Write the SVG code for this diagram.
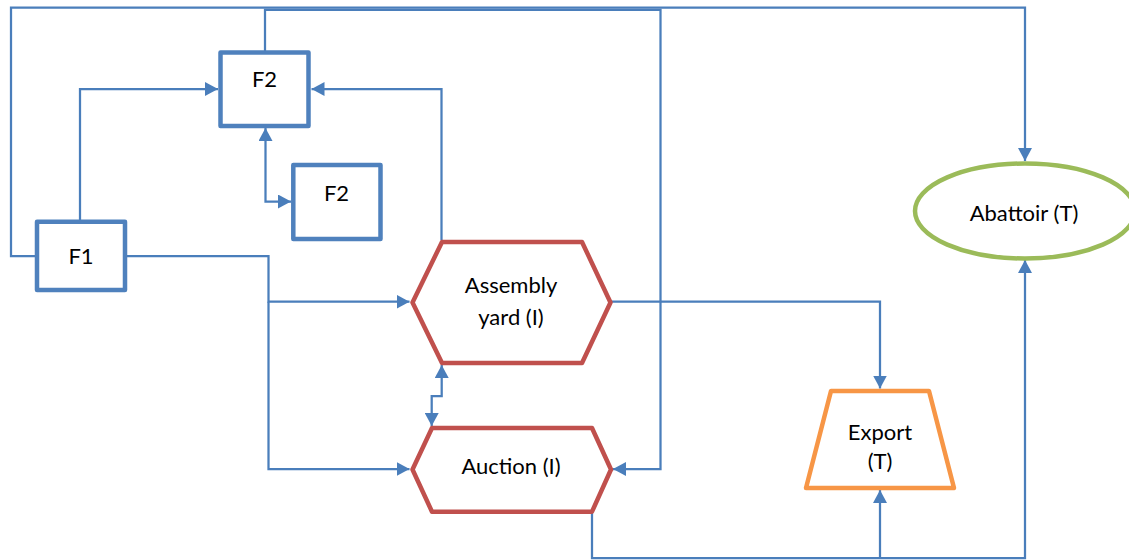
<svg xmlns="http://www.w3.org/2000/svg" width="1129" height="560" viewBox="0 0 1129 560">
  <style>
    .conn { fill: none; stroke: #4A7EBB; stroke-width: 2.25; stroke-linejoin: miter; }
    .box { fill: #FFFFFF; stroke: #4F81BD; stroke-width: 4.5; stroke-linejoin: round; }
    .hex { fill: #FFFFFF; stroke: #C0504D; stroke-width: 4.5; stroke-linejoin: round; }
    .trap { fill: #FFFFFF; stroke: #F79646; stroke-width: 4.5; stroke-linejoin: round; }
    .oval { fill: #FFFFFF; stroke: #9BBB59; stroke-width: 4.5; }
    .lbl { font-family: Lato, "Liberation Sans", sans-serif; font-size: 22px; fill: #000000; text-anchor: middle; }
  </style>
  <defs>
    <marker id="arrow" viewBox="0 0 13 14" refX="13" refY="7" markerWidth="13" markerHeight="14" markerUnits="userSpaceOnUse" orient="auto-start-reverse">
      <path d="M0,0 L13,7 L0,14 z" fill="#4A7EBB"/>
    </marker>
  </defs>
  <rect width="1129" height="560" fill="#FFFFFF"/>

  <!-- connectors -->
  <g id="connectors">
    <path id="c-f1-abattoir" class="conn" d="M37,256 H11 V7.5 H1025 V161" marker-end="url(#arrow)"/>
    <path id="c-f2-auction" class="conn" d="M265,51 V9.8 H660.5 V469 H613" marker-end="url(#arrow)"/>
    <path id="c-f1-f2" class="conn" d="M80,221 V89 H218" marker-end="url(#arrow)"/>
    <path id="c-assembly-f2" class="conn" d="M441.5,240 V89 H311.5" marker-end="url(#arrow)"/>
    <path id="c-f2-f2b" class="conn" d="M265.5,128 V201.5 H291" marker-start="url(#arrow)" marker-end="url(#arrow)"/>
    <path id="c-f1-assembly" class="conn" d="M125,256 H268.5 V301.7 H409.5" marker-end="url(#arrow)"/>
    <path id="c-f1-auction" class="conn" d="M268.5,301.7 V469 H409.5" marker-end="url(#arrow)"/>
    <path id="c-assembly-auction" class="conn" d="M441.7,365 V396 H431.7 V426" marker-start="url(#arrow)" marker-end="url(#arrow)"/>
    <path id="c-assembly-export" class="conn" d="M612,301.7 H880 V388.5" marker-end="url(#arrow)"/>
    <path id="c-auction-abattoir" class="conn" d="M592,512 V558 H1025 V260" marker-end="url(#arrow)"/>
    <path id="c-auction-export" class="conn" d="M880,558 V490" marker-end="url(#arrow)"/>
  </g>

  <!-- farms -->
  <g id="node-f2-top">
    <rect class="box" x="220.5" y="52.5" width="88" height="73.5"/>
    <text class="lbl" x="264.5" y="87">F2</text>
  </g>
  <g id="node-f2-small">
    <rect class="box" x="293.3" y="165" width="87.2" height="74"/>
    <text class="lbl" x="336.5" y="200.5">F2</text>
  </g>
  <g id="node-f1">
    <rect class="box" x="37" y="221.7" width="88" height="68.3"/>
    <text class="lbl" x="81" y="264">F1</text>
  </g>

  <!-- intermediaries -->
  <g id="node-assembly">
    <polygon class="hex" points="412.5,302.5 442,242 582,242 610.5,302.5 582,363 442,363"/>
    <text class="lbl" x="511" y="293">Assembly</text>
    <text class="lbl" x="511" y="325">yard (I)</text>
  </g>
  <g id="node-auction">
    <polygon class="hex" points="412.5,469.5 432,428 592,428 611,469.5 592,511.7 432,511.7"/>
    <text class="lbl" x="511" y="473.5">Auction (I)</text>
  </g>

  <!-- terminals -->
  <g id="node-export">
    <polygon class="trap" points="831,391 929,391 954,488 806,488"/>
    <text class="lbl" x="880" y="440">Export</text>
    <text class="lbl" x="880" y="469">(T)</text>
  </g>
  <g id="node-abattoir">
    <ellipse class="oval" cx="1025" cy="211" rx="110" ry="47.5"/>
    <text class="lbl" x="1024" y="221">Abattoir (T)</text>
  </g>
</svg>
